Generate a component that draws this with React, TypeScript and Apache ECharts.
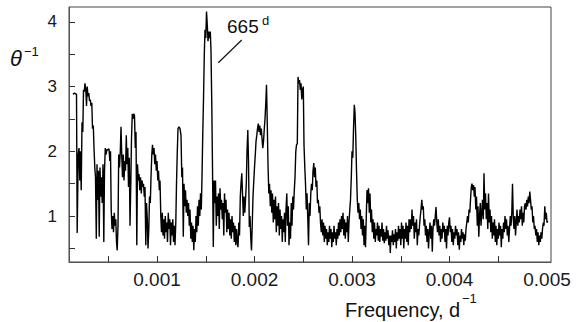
import React, { useEffect, useRef } from "react";
import * as echarts from "echarts";

// Frequency grid of the periodogram, d^-1
const frequency = [
  138.5e-6, 153.8e-6, 174.4e-6, 181.5e-6, 191.8e-6, 200.0e-6, 208.2e-6, 215.4e-6, 222.6e-6, 230.8e-6,
  239.0e-6, 246.2e-6, 254.4e-6, 261.5e-6, 269.7e-6, 276.9e-6, 284.1e-6, 292.3e-6, 300.5e-6, 307.7e-6,
  315.9e-6, 323.1e-6, 331.3e-6, 338.5e-6, 346.7e-6, 353.8e-6, 362.0e-6, 369.2e-6, 377.4e-6, 384.6e-6,
  392.8e-6, 400.0e-6, 407.2e-6, 415.4e-6, 423.6e-6, 430.8e-6, 437.9e-6, 446.2e-6, 454.4e-6, 461.5e-6,
  469.7e-6, 476.9e-6, 487.2e-6, 497.4e-6, 507.7e-6, 515.9e-6, 523.1e-6, 530.3e-6, 538.5e-6, 546.7e-6,
  553.8e-6, 562.1e-6, 569.2e-6, 577.4e-6, 584.6e-6, 591.8e-6, 600.0e-6, 607.2e-6, 615.4e-6, 623.6e-6,
  630.8e-6, 639.0e-6, 646.2e-6, 654.4e-6, 661.5e-6, 669.7e-6, 676.9e-6, 685.1e-6, 692.3e-6, 700.5e-6,
  707.7e-6, 715.9e-6, 723.1e-6, 731.3e-6, 738.5e-6, 746.7e-6, 753.8e-6, 762.1e-6, 769.2e-6, 777.4e-6,
  784.6e-6, 792.8e-6, 800.0e-6, 808.2e-6, 815.4e-6, 823.6e-6, 830.8e-6, 839.0e-6, 846.2e-6, 854.4e-6,
  861.5e-6, 869.7e-6, 876.9e-6, 885.1e-6, 892.3e-6, 900.5e-6, 907.7e-6, 915.9e-6, 923.1e-6, 931.3e-6,
  938.5e-6, 946.7e-6, 953.8e-6, 962.1e-6, 969.2e-6, 977.4e-6, 984.6e-6, 992.8e-6, 1000.0e-6, 1008.2e-6,
  1015.4e-6, 1023.6e-6, 1030.8e-6, 1039.0e-6, 1046.2e-6, 1054.4e-6, 1061.5e-6, 1069.7e-6, 1076.9e-6, 1085.1e-6,
  1092.3e-6, 1100.5e-6, 1107.7e-6, 1115.9e-6, 1123.1e-6, 1131.3e-6, 1138.5e-6, 1146.7e-6, 1153.8e-6, 1162.1e-6,
  1169.2e-6, 1177.4e-6, 1184.6e-6, 1192.8e-6, 1200.0e-6, 1208.2e-6, 1215.4e-6, 1225.6e-6, 1235.9e-6, 1246.2e-6,
  1254.4e-6, 1261.5e-6, 1269.7e-6, 1276.9e-6, 1285.1e-6, 1292.3e-6, 1300.5e-6, 1307.7e-6, 1315.9e-6, 1323.1e-6,
  1331.3e-6, 1338.5e-6, 1346.7e-6, 1353.8e-6, 1362.1e-6, 1369.2e-6, 1377.4e-6, 1384.6e-6, 1392.8e-6, 1400.0e-6,
  1408.2e-6, 1415.4e-6, 1423.6e-6, 1430.8e-6, 1439.0e-6, 1446.2e-6, 1454.4e-6, 1461.5e-6, 1469.7e-6, 1476.9e-6,
  1485.1e-6, 1492.3e-6, 1500.5e-6, 1507.7e-6, 1515.9e-6, 1523.1e-6, 1531.3e-6, 1538.5e-6, 1546.7e-6, 1553.8e-6,
  1562.1e-6, 1569.2e-6, 1577.4e-6, 1584.6e-6, 1592.8e-6, 1600.0e-6, 1608.2e-6, 1615.4e-6, 1623.6e-6, 1630.8e-6,
  1639.0e-6, 1646.2e-6, 1654.4e-6, 1661.5e-6, 1669.7e-6, 1676.9e-6, 1685.1e-6, 1692.3e-6, 1700.5e-6, 1707.7e-6,
  1715.9e-6, 1723.1e-6, 1731.3e-6, 1738.5e-6, 1746.7e-6, 1753.8e-6, 1762.1e-6, 1769.2e-6, 1777.4e-6, 1784.6e-6,
  1792.8e-6, 1800.0e-6, 1808.2e-6, 1815.4e-6, 1823.6e-6, 1830.8e-6, 1839.0e-6, 1846.2e-6, 1854.4e-6, 1861.5e-6,
  1869.7e-6, 1876.9e-6, 1885.1e-6, 1892.3e-6, 1900.5e-6, 1907.7e-6, 1915.9e-6, 1923.1e-6, 1931.3e-6, 1938.5e-6,
  1946.7e-6, 1953.8e-6, 1962.1e-6, 1969.2e-6, 1977.4e-6, 1984.6e-6, 1992.8e-6, 2000.0e-6, 2008.2e-6, 2015.4e-6,
  2023.6e-6, 2030.8e-6, 2039.0e-6, 2046.2e-6, 2054.4e-6, 2061.5e-6, 2069.7e-6, 2076.9e-6, 2085.1e-6, 2092.3e-6,
  2100.5e-6, 2107.7e-6, 2115.9e-6, 2123.1e-6, 2131.3e-6, 2138.5e-6, 2146.7e-6, 2153.8e-6, 2162.1e-6, 2169.2e-6,
  2177.4e-6, 2184.6e-6, 2192.8e-6, 2200.0e-6, 2208.2e-6, 2215.4e-6, 2223.6e-6, 2230.8e-6, 2239.0e-6, 2246.2e-6,
  2254.4e-6, 2261.5e-6, 2269.7e-6, 2276.9e-6, 2285.1e-6, 2292.3e-6, 2300.5e-6, 2307.7e-6, 2315.9e-6, 2323.1e-6,
  2331.3e-6, 2338.5e-6, 2346.7e-6, 2353.8e-6, 2362.1e-6, 2369.2e-6, 2377.4e-6, 2384.6e-6, 2392.8e-6, 2400.0e-6,
  2408.2e-6, 2415.4e-6, 2423.6e-6, 2430.8e-6, 2439.0e-6, 2446.2e-6, 2454.4e-6, 2461.5e-6, 2469.7e-6, 2476.9e-6,
  2485.1e-6, 2492.3e-6, 2500.5e-6, 2507.7e-6, 2515.9e-6, 2523.1e-6, 2531.3e-6, 2538.5e-6, 2546.7e-6, 2553.8e-6,
  2562.1e-6, 2569.2e-6, 2577.4e-6, 2584.6e-6, 2592.8e-6, 2600.0e-6, 2608.2e-6, 2615.4e-6, 2623.6e-6, 2630.8e-6,
  2639.0e-6, 2646.2e-6, 2654.4e-6, 2661.5e-6, 2669.7e-6, 2676.9e-6, 2685.1e-6, 2692.3e-6, 2700.5e-6, 2707.7e-6,
  2715.9e-6, 2723.1e-6, 2731.3e-6, 2738.5e-6, 2746.7e-6, 2753.8e-6, 2762.1e-6, 2769.2e-6, 2777.4e-6, 2784.6e-6,
  2792.8e-6, 2800.0e-6, 2808.2e-6, 2815.4e-6, 2823.6e-6, 2830.8e-6, 2839.0e-6, 2846.2e-6, 2854.4e-6, 2861.5e-6,
  2869.7e-6, 2876.9e-6, 2885.1e-6, 2892.3e-6, 2900.5e-6, 2907.7e-6, 2915.9e-6, 2923.1e-6, 2931.3e-6, 2938.5e-6,
  2946.7e-6, 2953.8e-6, 2962.1e-6, 2969.2e-6, 2977.4e-6, 2984.6e-6, 2992.8e-6, 3000.0e-6, 3008.2e-6, 3015.4e-6,
  3023.6e-6, 3030.8e-6, 3039.0e-6, 3046.2e-6, 3054.4e-6, 3061.5e-6, 3069.7e-6, 3076.9e-6, 3085.1e-6, 3092.3e-6,
  3100.5e-6, 3107.7e-6, 3115.9e-6, 3123.1e-6, 3131.3e-6, 3138.5e-6, 3146.7e-6, 3153.8e-6, 3162.1e-6, 3169.2e-6,
  3177.4e-6, 3184.6e-6, 3192.8e-6, 3200.0e-6, 3208.2e-6, 3215.4e-6, 3223.6e-6, 3230.8e-6, 3239.0e-6, 3246.2e-6,
  3254.4e-6, 3261.5e-6, 3269.7e-6, 3276.9e-6, 3285.1e-6, 3292.3e-6, 3300.5e-6, 3307.7e-6, 3315.9e-6, 3323.1e-6,
  3331.3e-6, 3338.5e-6, 3346.7e-6, 3353.8e-6, 3362.1e-6, 3369.2e-6, 3377.4e-6, 3384.6e-6, 3392.8e-6, 3400.0e-6,
  3408.2e-6, 3415.4e-6, 3423.6e-6, 3430.8e-6, 3439.0e-6, 3446.2e-6, 3454.4e-6, 3461.5e-6, 3469.7e-6, 3476.9e-6,
  3485.1e-6, 3492.3e-6, 3500.5e-6, 3507.7e-6, 3515.9e-6, 3523.1e-6, 3531.3e-6, 3538.5e-6, 3546.7e-6, 3553.8e-6,
  3562.1e-6, 3569.2e-6, 3577.4e-6, 3584.6e-6, 3592.8e-6, 3600.0e-6, 3608.2e-6, 3615.4e-6, 3623.6e-6, 3630.8e-6,
  3639.0e-6, 3646.2e-6, 3654.4e-6, 3661.5e-6, 3669.7e-6, 3676.9e-6, 3685.1e-6, 3692.3e-6, 3700.5e-6, 3707.7e-6,
  3715.9e-6, 3723.1e-6, 3731.3e-6, 3738.5e-6, 3746.7e-6, 3753.8e-6, 3762.1e-6, 3769.2e-6, 3777.4e-6, 3784.6e-6,
  3792.8e-6, 3800.0e-6, 3808.2e-6, 3815.4e-6, 3823.6e-6, 3830.8e-6, 3839.0e-6, 3846.2e-6, 3854.4e-6, 3861.5e-6,
  3869.7e-6, 3876.9e-6, 3885.1e-6, 3892.3e-6, 3900.5e-6, 3907.7e-6, 3915.9e-6, 3923.1e-6, 3931.3e-6, 3938.5e-6,
  3946.7e-6, 3953.8e-6, 3962.1e-6, 3969.2e-6, 3977.4e-6, 3984.6e-6, 3992.8e-6, 4000.0e-6, 4008.2e-6, 4015.4e-6,
  4023.6e-6, 4030.8e-6, 4039.0e-6, 4046.2e-6, 4054.4e-6, 4061.5e-6, 4069.7e-6, 4076.9e-6, 4085.1e-6, 4092.3e-6,
  4100.5e-6, 4107.7e-6, 4115.9e-6, 4123.1e-6, 4131.3e-6, 4138.5e-6, 4146.7e-6, 4153.8e-6, 4162.1e-6, 4169.2e-6,
  4177.4e-6, 4184.6e-6, 4192.8e-6, 4200.0e-6, 4208.2e-6, 4215.4e-6, 4223.6e-6, 4230.8e-6, 4239.0e-6, 4246.2e-6,
  4254.4e-6, 4261.5e-6, 4269.7e-6, 4276.9e-6, 4285.1e-6, 4292.3e-6, 4300.5e-6, 4307.7e-6, 4315.9e-6, 4323.1e-6,
  4331.3e-6, 4338.5e-6, 4346.7e-6, 4353.8e-6, 4362.1e-6, 4369.2e-6, 4377.4e-6, 4384.6e-6, 4392.8e-6, 4400.0e-6,
  4408.2e-6, 4415.4e-6, 4423.6e-6, 4430.8e-6, 4439.0e-6, 4446.2e-6, 4454.4e-6, 4461.5e-6, 4469.7e-6, 4476.9e-6,
  4485.1e-6, 4492.3e-6, 4500.5e-6, 4507.7e-6, 4515.9e-6, 4523.1e-6, 4531.3e-6, 4538.5e-6, 4546.7e-6, 4553.8e-6,
  4562.1e-6, 4569.2e-6, 4577.4e-6, 4584.6e-6, 4592.8e-6, 4600.0e-6, 4608.2e-6, 4615.4e-6, 4623.6e-6, 4630.8e-6,
  4639.0e-6, 4646.2e-6, 4654.4e-6, 4661.5e-6, 4669.7e-6, 4676.9e-6, 4685.1e-6, 4692.3e-6, 4700.5e-6, 4707.7e-6,
  4715.9e-6, 4723.1e-6, 4731.3e-6, 4738.5e-6, 4746.7e-6, 4753.8e-6, 4762.1e-6, 4769.2e-6, 4777.4e-6, 4784.6e-6,
  4792.8e-6, 4800.0e-6, 4808.2e-6, 4815.4e-6, 4823.6e-6, 4830.8e-6, 4839.0e-6, 4846.2e-6, 4854.4e-6, 4861.5e-6,
  4869.7e-6, 4876.9e-6, 4885.1e-6, 4892.3e-6, 4900.5e-6, 4907.7e-6, 4915.9e-6, 4923.1e-6, 4931.3e-6, 4938.5e-6,
  4946.7e-6, 4953.8e-6, 4962.1e-6, 4969.2e-6, 4977.4e-6, 4984.6e-6, 4992.8e-6, 5000.0e-6, 5008.2e-6,
];

// θ^-1 statistic
const thetaInv = [
  2.88, 2.90, 2.88, 0.74, 1.95, 2.05, 1.55, 2.00, 1.40, 2.45,
  2.30, 2.95, 2.92, 3.05, 2.95, 2.70, 3.00, 2.85, 2.90, 2.78,
  2.80, 2.70, 2.75, 2.35, 2.40, 2.05, 1.75, 1.60, 0.65, 1.80,
  1.25, 1.70, 0.68, 1.75, 1.30, 1.60, 1.20, 1.80, 0.60, 1.70,
  2.05, 1.95, 2.03, 2.02, 2.04, 1.85, 2.00, 1.10, 0.80, 1.00,
  0.75, 1.05, 0.85, 0.95, 0.60, 0.47, 0.85, 1.95, 1.75, 2.00,
  2.38, 1.90, 1.60, 1.95, 1.55, 1.85, 1.70, 2.25, 1.80, 2.05,
  1.45, 1.90, 0.85, 1.50, 2.20, 2.58, 2.50, 2.58, 2.55, 2.05,
  2.30, 0.55, 1.80, 1.55, 1.65, 1.40, 1.60, 1.35, 1.55, 1.45,
  1.50, 1.30, 1.45, 0.55, 1.20, 0.95, 0.50, 0.80, 1.30, 1.20,
  1.60, 1.95, 2.10, 1.95, 2.05, 1.80, 1.95, 1.70, 1.85, 1.55,
  1.70, 1.40, 1.55, 1.00, 0.75, 1.05, 0.70, 0.95, 0.65, 1.00,
  0.75, 0.90, 0.60, 1.05, 0.80, 0.95, 0.55, 0.90, 0.70, 0.95,
  0.60, 0.85, 0.55, 0.90, 1.50, 2.00, 2.35, 2.38, 2.35, 2.25,
  1.60, 1.75, 0.68, 1.50, 1.15, 1.40, 1.05, 1.25, 1.00, 1.20,
  0.85, 1.10, 0.65, 0.90, 0.60, 0.85, 0.47, 0.80, 0.60, 1.00,
  0.75, 1.15, 0.85, 1.25, 1.00, 1.35, 1.10, 1.60, 2.30, 2.80,
  3.50, 3.88, 3.75, 4.16, 3.95, 3.70, 3.85, 3.75, 3.85, 3.55,
  2.70, 1.75, 0.52, 1.55, 1.20, 1.55, 0.85, 1.30, 1.00, 1.35,
  0.80, 1.43, 1.10, 1.25, 0.95, 1.20, 0.70, 1.35, 1.05, 1.25,
  0.75, 1.10, 0.80, 1.05, 0.70, 0.95, 0.65, 1.00, 0.75, 0.90,
  0.60, 0.85, 0.55, 0.80, 0.60, 0.52, 0.90, 0.70, 1.30, 1.50,
  1.66, 1.35, 1.00, 1.30, 1.05, 1.25, 1.50, 2.00, 2.33, 1.85,
  0.83, 1.00, 0.65, 0.47, 0.90, 1.30, 1.55, 1.75, 1.95, 2.15,
  2.25, 2.35, 2.43, 2.30, 2.40, 2.25, 2.35, 2.20, 2.05, 2.15,
  2.35, 2.50, 2.75, 3.03, 2.40, 1.80, 1.35, 1.50, 1.15, 1.40,
  1.05, 1.35, 0.90, 1.25, 0.95, 1.30, 0.75, 1.15, 0.85, 1.20,
  0.70, 1.10, 0.80, 1.00, 0.60, 0.95, 0.75, 1.05, 0.60, 1.10,
  1.35, 0.85, 1.15, 0.55, 0.90, 0.65, 1.20, 0.85, 1.30, 1.10,
  1.40, 1.60, 2.00, 2.10, 2.12, 3.15, 3.05, 3.10, 2.95, 3.05,
  2.80, 2.95, 3.00, 2.10, 1.75, 1.50, 1.10, 1.35, 0.95, 0.55,
  1.20, 1.00, 1.35, 1.50, 1.40, 1.70, 1.82, 1.60, 1.75, 1.45,
  1.55, 1.20, 1.25, 1.05, 1.15, 0.90, 0.75, 0.95, 0.70, 0.90,
  0.60, 0.85, 0.65, 0.80, 0.55, 0.75, 0.60, 0.85, 0.65, 0.80,
  0.52, 0.75, 0.60, 0.85, 0.65, 0.75, 0.55, 0.80, 0.65, 0.90,
  0.70, 0.95, 0.75, 1.00, 0.80, 1.05, 0.70, 0.95, 0.65, 0.90,
  0.75, 1.00, 0.60, 0.90, 1.10, 1.25, 1.60, 2.00, 1.90, 2.35,
  2.72, 2.60, 2.20, 1.70, 1.25, 1.05, 1.20, 0.95, 1.10, 0.80,
  1.00, 0.70, 0.95, 0.55, 0.85, 0.52, 1.00, 1.40, 1.20, 1.43,
  1.05, 1.35, 0.90, 1.10, 0.75, 0.95, 0.65, 0.90, 0.60, 0.80,
  0.70, 0.90, 0.62, 0.85, 0.60, 0.80, 0.68, 0.90, 0.62, 0.80,
  0.58, 0.75, 0.62, 0.85, 0.65, 0.78, 0.55, 0.70, 0.43, 0.70,
  0.60, 0.78, 0.55, 0.72, 0.60, 0.80, 0.50, 0.75, 0.62, 0.85,
  0.65, 0.80, 0.55, 0.90, 0.65, 0.85, 0.50, 0.80, 0.65, 0.90,
  0.60, 0.85, 0.55, 0.95, 0.75, 0.95, 0.80, 1.10, 0.85, 1.00,
  0.65, 0.90, 0.75, 0.95, 0.55, 0.80, 0.70, 0.85, 1.00, 1.10,
  1.25, 1.10, 1.15, 0.85, 0.95, 0.70, 0.85, 0.60, 0.80, 0.50,
  0.75, 0.90, 0.65, 0.85, 0.45, 0.80, 0.95, 0.85, 1.00, 1.14,
  0.90, 0.75, 0.95, 0.70, 0.85, 0.60, 0.80, 0.65, 0.90, 0.75,
  0.85, 0.60, 0.80, 0.50, 0.85, 0.70, 0.90, 0.98, 0.75, 0.85,
  0.60, 0.80, 0.55, 0.75, 0.65, 0.85, 0.70, 0.80, 0.55, 0.75,
  0.48, 0.70, 0.60, 0.80, 0.65, 0.75, 0.55, 0.72, 0.62, 0.80,
  0.90, 1.00, 0.90, 1.10, 1.05, 1.25, 1.45, 1.50, 1.40, 1.48,
  1.30, 1.45, 1.10, 1.30, 0.85, 1.15, 0.68, 1.00, 1.20, 0.85,
  1.05, 1.25, 0.95, 1.66, 1.10, 1.35, 0.95, 1.20, 0.80, 1.35,
  0.90, 1.10, 0.75, 1.00, 0.65, 0.90, 0.70, 0.95, 0.60, 0.85,
  0.55, 0.80, 0.65, 0.90, 0.70, 0.85, 0.52, 0.80, 0.65, 0.90,
  0.75, 1.00, 0.80, 0.95, 0.70, 0.85, 0.60, 0.80, 1.00, 0.85,
  1.05, 1.50, 0.95, 0.80, 1.00, 0.70, 0.90, 1.10, 0.85, 1.00,
  0.90, 1.10, 0.95, 1.15, 0.85, 1.05, 0.90, 1.15, 1.20, 1.10,
  1.25, 1.15, 1.30, 1.20, 1.38, 1.25, 1.10, 1.15, 0.90, 1.00,
  0.80, 0.85, 0.70, 0.80, 0.60, 0.75, 0.55, 0.70, 0.60, 0.75,
  0.65, 0.80, 0.90, 0.85, 1.15, 0.95, 1.05, 0.90, 0.92,
];

const xLabelValues = [0.001, 0.002, 0.003, 0.004, 0.005];
const xTickValues = [0.0005, 0.001, 0.0015, 0.002, 0.0025, 0.003, 0.0035, 0.004, 0.0045];
const yLabelValues = [1, 2, 3, 4];
const yTickValues = [0.5, 1, 1.5, 2, 2.5, 3, 3.5, 4];
const peakLabel = "665";

const FONT = "Liberation Sans";

export default function App() {
  const ref = useRef<HTMLDivElement>(null);

  useEffect(() => {
    if (!ref.current) return;
    const chart = echarts.init(ref.current, null, { renderer: "svg" });
    const data = frequency.map((f, i) => [f, thetaInv[i]]);

    chart.setOption({
      animation: false,
      backgroundColor: "#ffffff",
      textStyle: { fontFamily: FONT },
      grid: {
        left: 69,
        top: 7,
        right: 25,
        bottom: 60,
        show: true,
        borderColor: "#444",
        borderWidth: 1,
        backgroundColor: "transparent",
      },
      xAxis: {
        type: "value",
        min: 0.0000974,
        max: 0.005041,
        axisLine: { show: true, lineStyle: { color: "#555", width: 1 } },
        axisTick: {
          show: true,
          inside: true,
          length: 6,
          customValues: xTickValues,
          lineStyle: { color: "#333", width: 1 },
        },
        axisLabel: {
          customValues: xLabelValues,
          formatter: (v: number) => v.toFixed(3),
          fontSize: 19,
          color: "#1a1a1a",
          margin: 8,
          fontFamily: FONT,
        },
        splitLine: { show: false },
      },
      yAxis: {
        type: "value",
        min: 0.29,
        max: 4.23,
        axisLine: { show: true, lineStyle: { color: "#555", width: 1 } },
        axisTick: {
          show: true,
          inside: true,
          length: 6,
          customValues: yTickValues,
          lineStyle: { color: "#333", width: 1 },
        },
        axisLabel: {
          customValues: yLabelValues,
          formatter: (v: number) => String(v),
          fontSize: 17,
          color: "#1a1a1a",
          margin: 12,
          fontFamily: FONT,
        },
        splitLine: { show: false },
      },
      series: [
        {
          type: "line",
          data,
          showSymbol: false,
          symbol: "none",
          lineStyle: { color: "#000", width: 1.4 },
          silent: true,
        },
      ],
      graphic: [
        {
          type: "text",
          x: 10,
          y: 58,
          style: { text: "θ", fontSize: 22, fontStyle: "italic", fontFamily: FONT, fill: "#111", verticalAlign: "middle" },
        },
        {
          type: "text",
          x: 24,
          y: 51,
          style: { text: "−1", fontSize: 13, fontFamily: FONT, fill: "#111", verticalAlign: "middle" },
        },
        {
          type: "text",
          x: 345,
          y: 310,
          style: { text: "Frequency, d", fontSize: 20, fontFamily: FONT, fill: "#111", verticalAlign: "middle" },
        },
        {
          type: "text",
          x: 462,
          y: 298,
          style: { text: "−1", fontSize: 13, fontFamily: FONT, fill: "#111", verticalAlign: "middle" },
        },
        {
          type: "text",
          x: 227,
          y: 26,
          style: { text: peakLabel, fontSize: 19, fontFamily: FONT, fill: "#111", verticalAlign: "middle" },
        },
        {
          type: "text",
          x: 262,
          y: 20,
          style: { text: "d", fontSize: 13, fontFamily: FONT, fill: "#111", verticalAlign: "middle" },
        },
        {
          type: "line",
          shape: { x1: 241.7, y1: 40, x2: 218.3, y2: 62.7 },
          style: { stroke: "#111", lineWidth: 1.2 },
        },
      ],
    });

    return () => chart.dispose();
  }, []);

  return (
    <div
      ref={ref}
      style={{ position: "fixed", left: 0, top: 0, width: 576, height: 322, background: "#fff" }}
    />
  );
}
